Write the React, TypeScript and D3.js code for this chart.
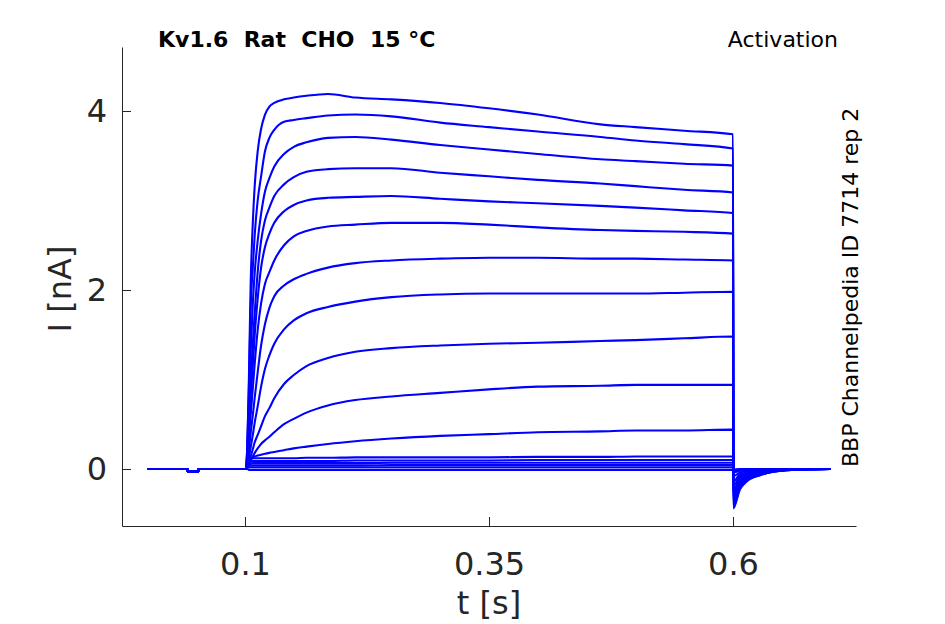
import { useEffect, useRef } from 'react';
import * as d3 from 'd3';

// Kv1.6 activation sweeps, current in nA, time in s

// holding period, shared by every sweep
const holdT = [0, 0.041, 0.0415, 0.052, 0.0525, 0.1];
const holdI = [0, 0, -0.03, -0.03, 0, 0];

// depolarising step
const stepT = [
  0.101, 0.1025, 0.104, 0.1058, 0.108, 0.11, 0.113, 0.1165, 0.1205, 0.125, 0.13, 0.14,
  0.15, 0.163, 0.185, 0.213, 0.25, 0.3, 0.35, 0.4, 0.464, 0.5, 0.55, 0.6,
];

// tail after repolarisation
const tailT = [0.6003, 0.607, 0.614, 0.628, 0.641, 0.66, 0.7];

const stepI: number[][] = [
  [0, 0.3, 1.0, 2.06, 2.75, 3.17, 3.55, 3.8, 3.96, 4.05, 4.09, 4.13, 4.15, 4.17, 4.19, 4.15, 4.13, 4.09, 4.03, 3.96, 3.85, 3.82, 3.78, 3.74],
  [0, 0.3, 0.9, 1.8, 2.25, 2.62, 3.0, 3.27, 3.55, 3.7, 3.79, 3.88, 3.9, 3.92, 3.95, 3.96, 3.94, 3.87, 3.82, 3.77, 3.71, 3.67, 3.63, 3.58],
  [0, 0.25, 0.7, 1.3, 1.85, 2.2, 2.55, 2.85, 3.1, 3.25, 3.38, 3.52, 3.6, 3.65, 3.7, 3.71, 3.68, 3.62, 3.57, 3.52, 3.46, 3.44, 3.41, 3.39],
  [0, 0.2, 0.55, 0.95, 1.4, 1.75, 2.2, 2.55, 2.78, 2.92, 3.05, 3.18, 3.26, 3.32, 3.35, 3.36, 3.36, 3.31, 3.27, 3.23, 3.19, 3.16, 3.12, 3.09],
  [0, 0.15, 0.45, 0.8, 1.15, 1.5, 1.9, 2.25, 2.48, 2.63, 2.75, 2.88, 2.95, 3.0, 3.03, 3.04, 3.05, 3.02, 2.99, 2.97, 2.94, 2.92, 2.89, 2.86],
  [0, 0.12, 0.35, 0.6, 0.9, 1.18, 1.55, 1.85, 2.07, 2.2, 2.33, 2.5, 2.6, 2.66, 2.71, 2.73, 2.75, 2.75, 2.73, 2.7, 2.67, 2.66, 2.65, 2.63],
  [0, 0.08, 0.22, 0.4, 0.6, 0.8, 1.08, 1.38, 1.62, 1.8, 1.93, 2.05, 2.12, 2.18, 2.25, 2.3, 2.33, 2.35, 2.36, 2.36, 2.35, 2.35, 2.34, 2.33],
  [0, 0.05, 0.13, 0.24, 0.38, 0.52, 0.7, 0.92, 1.12, 1.27, 1.4, 1.56, 1.66, 1.74, 1.81, 1.87, 1.92, 1.95, 1.96, 1.96, 1.96, 1.96, 1.97, 1.98],
  [0, 0.03, 0.08, 0.14, 0.22, 0.3, 0.38, 0.48, 0.59, 0.68, 0.79, 0.95, 1.05, 1.15, 1.24, 1.31, 1.35, 1.38, 1.4, 1.41, 1.43, 1.44, 1.46, 1.48],
  [0, 0.02, 0.05, 0.09, 0.14, 0.18, 0.23, 0.28, 0.32, 0.36, 0.41, 0.5, 0.56, 0.63, 0.71, 0.77, 0.81, 0.85, 0.89, 0.92, 0.93, 0.94, 0.94, 0.94],
  [0, 0.04, 0.08, 0.11, 0.13, 0.14, 0.15, 0.16, 0.17, 0.18, 0.19, 0.21, 0.23, 0.25, 0.28, 0.31, 0.34, 0.37, 0.39, 0.41, 0.42, 0.43, 0.43, 0.44],
  [0, 0.05, 0.09, 0.11, 0.12, 0.12, 0.12, 0.12, 0.12, 0.12, 0.12, 0.12, 0.12, 0.125, 0.125, 0.13, 0.13, 0.13, 0.13, 0.135, 0.135, 0.14, 0.14, 0.14],
  [0, 0.04, 0.07, 0.085, 0.09, 0.09, 0.09, 0.09, 0.09, 0.09, 0.09, 0.09, 0.09, 0.09, 0.09, 0.095, 0.095, 0.095, 0.095, 0.1, 0.1, 0.1, 0.1, 0.1],
  [0, 0.03, 0.05, 0.06, 0.065, 0.065, 0.065, 0.065, 0.065, 0.065, 0.065, 0.065, 0.065, 0.065, 0.065, 0.065, 0.07, 0.07, 0.07, 0.07, 0.07, 0.07, 0.07, 0.07],
  [0, 0.02, 0.035, 0.04, 0.04, 0.04, 0.04, 0.04, 0.04, 0.04, 0.04, 0.04, 0.04, 0.04, 0.04, 0.04, 0.045, 0.045, 0.045, 0.045, 0.045, 0.045, 0.045, 0.045],
  [0, 0.01, 0.02, 0.02, 0.02, 0.02, 0.02, 0.02, 0.02, 0.02, 0.02, 0.02, 0.02, 0.02, 0.02, 0.02, 0.02, 0.02, 0.02, 0.02, 0.02, 0.02, 0.02, 0.02],
  [0, 0, -0.01, -0.01, -0.01, -0.01, -0.01, -0.01, -0.01, -0.01, -0.01, -0.01, -0.01, -0.01, -0.01, -0.01, -0.01, -0.01, -0.01, -0.01, -0.01, -0.01, -0.01, -0.01],
];

const tailI: number[][] = [
  [-0.44, -0.23, -0.14, -0.07, -0.03, -0.01, 0],
  [-0.42, -0.22, -0.13, -0.065, -0.03, -0.01, 0],
  [-0.4, -0.2, -0.12, -0.06, -0.03, -0.01, 0],
  [-0.37, -0.18, -0.11, -0.055, -0.025, -0.01, 0],
  [-0.34, -0.16, -0.1, -0.05, -0.02, -0.01, 0],
  [-0.31, -0.14, -0.09, -0.045, -0.02, -0.005, 0],
  [-0.28, -0.12, -0.08, -0.04, -0.02, -0.005, 0],
  [-0.24, -0.1, -0.065, -0.035, -0.015, 0, 0],
  [-0.19, -0.08, -0.05, -0.03, -0.01, 0, 0],
  [-0.14, -0.06, -0.04, -0.02, -0.01, 0, 0],
  [-0.08, -0.04, -0.025, -0.01, 0, 0, 0],
  [-0.04, -0.02, -0.01, 0, 0, 0, 0],
  [-0.03, -0.015, -0.005, 0, 0, 0, 0],
  [-0.02, -0.01, 0, 0, 0, 0, 0],
  [-0.02, -0.01, 0, 0, 0, 0, 0],
  [-0.01, 0, 0, 0, 0, 0, 0],
  [-0.01, 0, 0, 0, 0, 0, 0],
];

const xTicks = [0.1, 0.35, 0.6];
const yTicks = [0, 2, 4];

const width = 945;
const height = 624;
const font = 'DejaVu Sans, sans-serif';
const axisColor = '#262626';

export default function App() {
  const xAxisRef = useRef<SVGGElement>(null);
  const yAxisRef = useRef<SVGGElement>(null);

  const x = d3.scaleLinear().domain([-0.026, 0.726]).range([122, 856]);
  const y = d3.scaleLinear().domain([-0.637, 4.715]).range([526, 47]);

  const line = d3
    .line<[number, number]>()
    .x((d) => x(d[0]))
    .y((d) => y(d[1]))
    .curve(d3.curveMonotoneX);

  const sweeps = stepI.map((vals, k) => {
    const pts: [number, number][] = [];
    holdT.forEach((t, i) => pts.push([t, holdI[i]]));
    stepT.forEach((t, i) => pts.push([t, vals[i]]));
    tailT.forEach((t, i) => pts.push([t, tailI[k][i]]));
    return pts;
  });

  useEffect(() => {
    document.body.style.margin = '0';

    const gx = d3.select(xAxisRef.current);
    gx.selectAll('*').remove();
    gx.call(
      d3.axisBottom(x).tickValues(xTicks).tickFormat((d) => String(d)).tickSizeInner(-9).tickSizeOuter(0).tickPadding(26)
    );
    gx.select('.domain').attr('stroke', axisColor);
    gx.selectAll('.tick line').attr('stroke', axisColor);
    gx.selectAll('.tick text')
      .attr('fill', axisColor)
      .attr('font-size', 32)
      .attr('font-family', font);

    const gy = d3.select(yAxisRef.current);
    gy.selectAll('*').remove();
    gy.call(
      d3.axisLeft(y).tickValues(yTicks).tickFormat((d) => String(d)).tickSizeInner(-9).tickSizeOuter(0).tickPadding(15)
    );
    gy.select('.domain').attr('stroke', axisColor);
    gy.selectAll('.tick line').attr('stroke', axisColor);
    gy.selectAll('.tick text')
      .attr('fill', axisColor)
      .attr('font-size', 32)
      .attr('font-family', font);
  }, []);

  return (
    <svg width={width} height={height} style={{ display: 'block', background: '#fff' }}>
      <g>
        {sweeps.map((pts, i) => (
          <path key={i} d={line(pts) || ''} fill="none" stroke="#0000ff" strokeWidth={2.1} strokeLinejoin="round" />
        ))}
      </g>
      <g ref={xAxisRef} transform="translate(0,526)" />
      <g ref={yAxisRef} transform="translate(122,0)" />

      <text x={489} y={614} textAnchor="middle" fontSize={32} fontFamily={font} fill={axisColor}>
        t [s]
      </text>
      <text
        transform="translate(71,289) rotate(-90)"
        textAnchor="middle"
        fontSize={32}
        fontFamily={font}
        fill={axisColor}
      >
        I [nA]
      </text>

      <text x={158} y={47} fontSize={22} fontWeight="bold" fontFamily={font} fill="#000" xmlSpace="preserve">
        {'Kv1.6  Rat  CHO  15 °C'}
      </text>
      <text x={838} y={47} textAnchor="end" fontSize={22} fontFamily={font} fill="#000">
        Activation
      </text>
      <text transform="translate(858,467) rotate(-90)" fontSize={22} fontFamily={font} fill="#000">
        BBP Channelpedia ID 7714 rep 2
      </text>
    </svg>
  );
}
